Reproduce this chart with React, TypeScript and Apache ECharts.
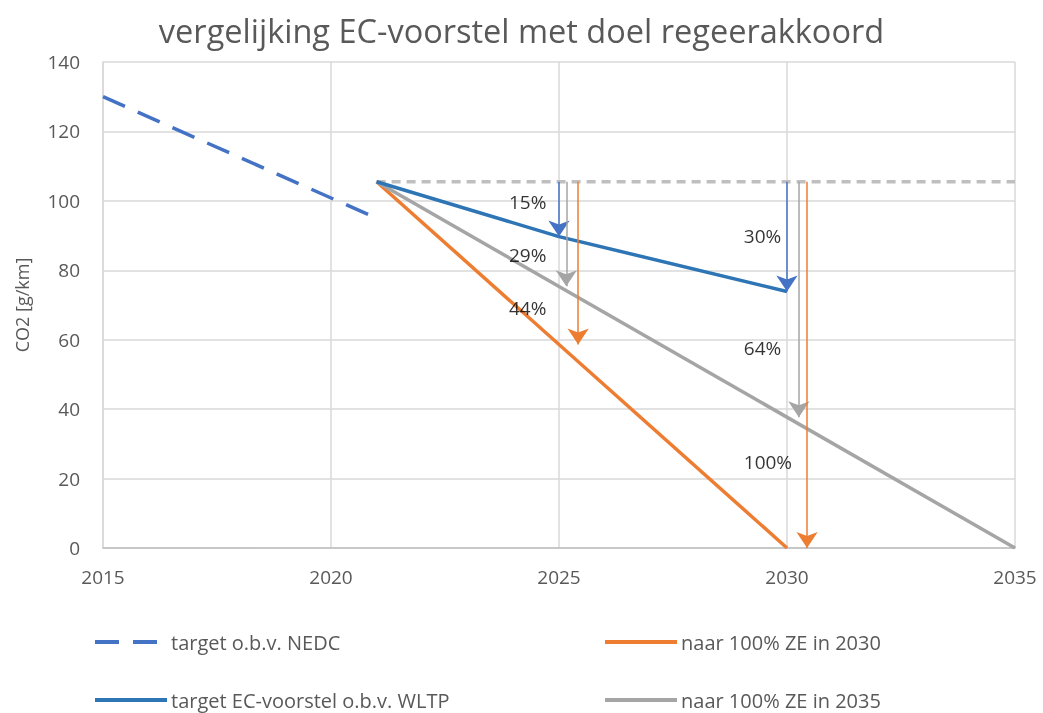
import React, { useEffect, useRef } from "react";
import * as echarts from "echarts";

const FONT = "'Open Sans', 'Noto Sans', sans-serif";
const TEXT_COLOR = "#595959";

const title = "vergelijking EC-voorstel met doel regeerakkoord";
const yAxisName = "CO2 [g/km]";

const seriesNames = [
  "target o.b.v. NEDC",
  "naar 100% ZE in 2030",
  "target EC-voorstel o.b.v. WLTP",
  "naar 100% ZE in 2035",
];

const nedc: [number, number][] = [[2015, 130], [2021, 95]];
const wltp: [number, number][] = [[2021, 105.5], [2025, 89.7], [2030, 73.9]];
const ze2030: [number, number][] = [[2021, 105.5], [2030, 0]];
const ze2035: [number, number][] = [[2021, 105.5], [2035, 0]];
const baseline: [number, number][] = [[2021, 105.5], [2035, 105.5]];

// arrows: [x, from, to, colorKey]
const arrows: [number, number, number, string][] = [
  [2025, 105.5, 89.7, "blue"],
  [2025.16, 105.5, 75.4, "gray"],
  [2025.42, 105.5, 58.6, "orange"],
  [2030, 105.5, 73.9, "blue"],
  [2030.26, 105.5, 37.7, "gray"],
  [2030.44, 105.5, 0, "orange"],
];

// percentage labels: [x, y, text]
const pctLabels: [number, number, string][] = [
  [2023.88, 99.7, "15%"],
  [2023.88, 84.4, "29%"],
  [2023.88, 69.1, "44%"],
  [2029.03, 89.9, "30%"],
  [2029.03, 57.6, "64%"],
  [2029.03, 24.8, "100%"],
];

const colors: Record<string, string> = {
  blue: "#4472C4",
  gray: "#A5A5A5",
  orange: "#ED7D31",
};

export default function App() {
  const ref = useRef<HTMLDivElement>(null);
  useEffect(() => {
    if (!ref.current) return;
    const chart = echarts.init(ref.current, null, { renderer: "svg" });
    const legendCommon = {
      orient: "horizontal",
      itemWidth: 72,
      itemHeight: 14,
      itemGap: 0,
      padding: 0,
      itemStyle: { opacity: 0 },
      lineStyle: { width: 4 },
      textStyle: { fontFamily: FONT, fontSize: 20, lineHeight: 20, color: TEXT_COLOR, padding: [0, 0, 0, -1] },
    };
    const option: any = {
      animation: false,
      textStyle: { fontFamily: FONT },
      title: {
        text: title,
        left: "center",
        top: 9,
        textStyle: { fontFamily: FONT, fontSize: 32.5, fontWeight: "normal", color: TEXT_COLOR },
      },
      grid: { left: 103, right: 28, top: 62, bottom: 165, containLabel: false },
      legend: [
        { ...legendCommon, data: [seriesNames[0]], left: 93, top: 632 },
        { ...legendCommon, data: [seriesNames[2]], left: 93, top: 690 },
        { ...legendCommon, data: [seriesNames[1]], left: 603, top: 632 },
        { ...legendCommon, data: [seriesNames[3]], left: 603, top: 690 },
      ],
      xAxis: {
        type: "value",
        min: 2015,
        max: 2035,
        interval: 5,
        axisLine: { show: true, lineStyle: { color: "#BFBFBF", width: 1.5 } },
        axisTick: { show: false },
        splitLine: { show: true, lineStyle: { color: "#D9D9D9", width: 1.5 } },
        axisLabel: {
          fontFamily: FONT,
          fontSize: 19,
          color: TEXT_COLOR,
          margin: 19,
          formatter: (v: number) => String(v),
        },
      },
      yAxis: {
        type: "value",
        min: 0,
        max: 140,
        interval: 20,
        name: yAxisName,
        nameLocation: "middle",
        nameGap: 72,
        nameTextStyle: { fontFamily: FONT, fontSize: 18, color: TEXT_COLOR },
        axisLine: { show: true, lineStyle: { color: "#D9D9D9", width: 1.5 } },
        axisTick: { show: false },
        splitLine: { show: true, lineStyle: { color: "#D9D9D9", width: 1.5 } },
        axisLabel: { fontFamily: FONT, fontSize: 19, color: TEXT_COLOR, margin: 23 },
      },
      series: [
        {
          name: seriesNames[0],
          type: "line",
          data: nedc,
          showSymbol: false,
          symbol: "none",
          lineStyle: { color: "#4472C4", width: 3.5, type: [24, 14] },
          itemStyle: { color: "#4472C4" },
          z: 3,
        },
        {
          name: "baseline",
          type: "line",
          data: baseline,
          showSymbol: false,
          symbol: "none",
          lineStyle: { color: "#BFBFBF", width: 3.5, type: [9, 6] },
          z: 2,
        },
        {
          name: seriesNames[2],
          type: "line",
          data: wltp,
          showSymbol: false,
          symbol: "none",
          lineStyle: { color: "#2E75B6", width: 3.5 },
          itemStyle: { color: "#2E75B6" },
          z: 4,
        },
        {
          name: seriesNames[1],
          type: "line",
          data: ze2030,
          showSymbol: false,
          symbol: "none",
          lineStyle: { color: "#ED7D31", width: 3.5 },
          itemStyle: { color: "#ED7D31" },
          z: 3,
        },
        {
          name: seriesNames[3],
          type: "line",
          data: ze2035,
          showSymbol: false,
          symbol: "none",
          lineStyle: { color: "#A5A5A5", width: 3.5 },
          itemStyle: { color: "#A5A5A5" },
          z: 3,
        },
        {
          name: "arrows",
          type: "lines",
          coordinateSystem: "cartesian2d",
          symbol: ["none", "arrow"],
          symbolSize: [0, 16],
          z: 5,
          data: arrows.map(([x, y0, y1, c]) => ({
            coords: [[x, y0], [x, y1]],
            lineStyle: { color: colors[c], width: 1.5, opacity: 1 },
          })),
        },
        {
          name: "labels",
          type: "scatter",
          symbolSize: 2,
          itemStyle: { color: "rgba(0,0,0,0)" },
          z: 6,
          data: pctLabels.map(([x, y, t]) => ({
            value: [x, y],
            label: {
              show: true,
              formatter: t,
              position: "right",
              distance: 0,
              align: "left",
              verticalAlign: "middle",
              fontFamily: FONT,
              fontSize: 19,
              color: "#000000",
            },
          })),
        },
      ],
    };
    chart.setOption(option);
    return () => chart.dispose();
  }, []);
  return (
    <div
      ref={ref}
      style={{ position: "fixed", left: 0, top: 0, width: 1043, height: 713 }}
    />
  );
}
